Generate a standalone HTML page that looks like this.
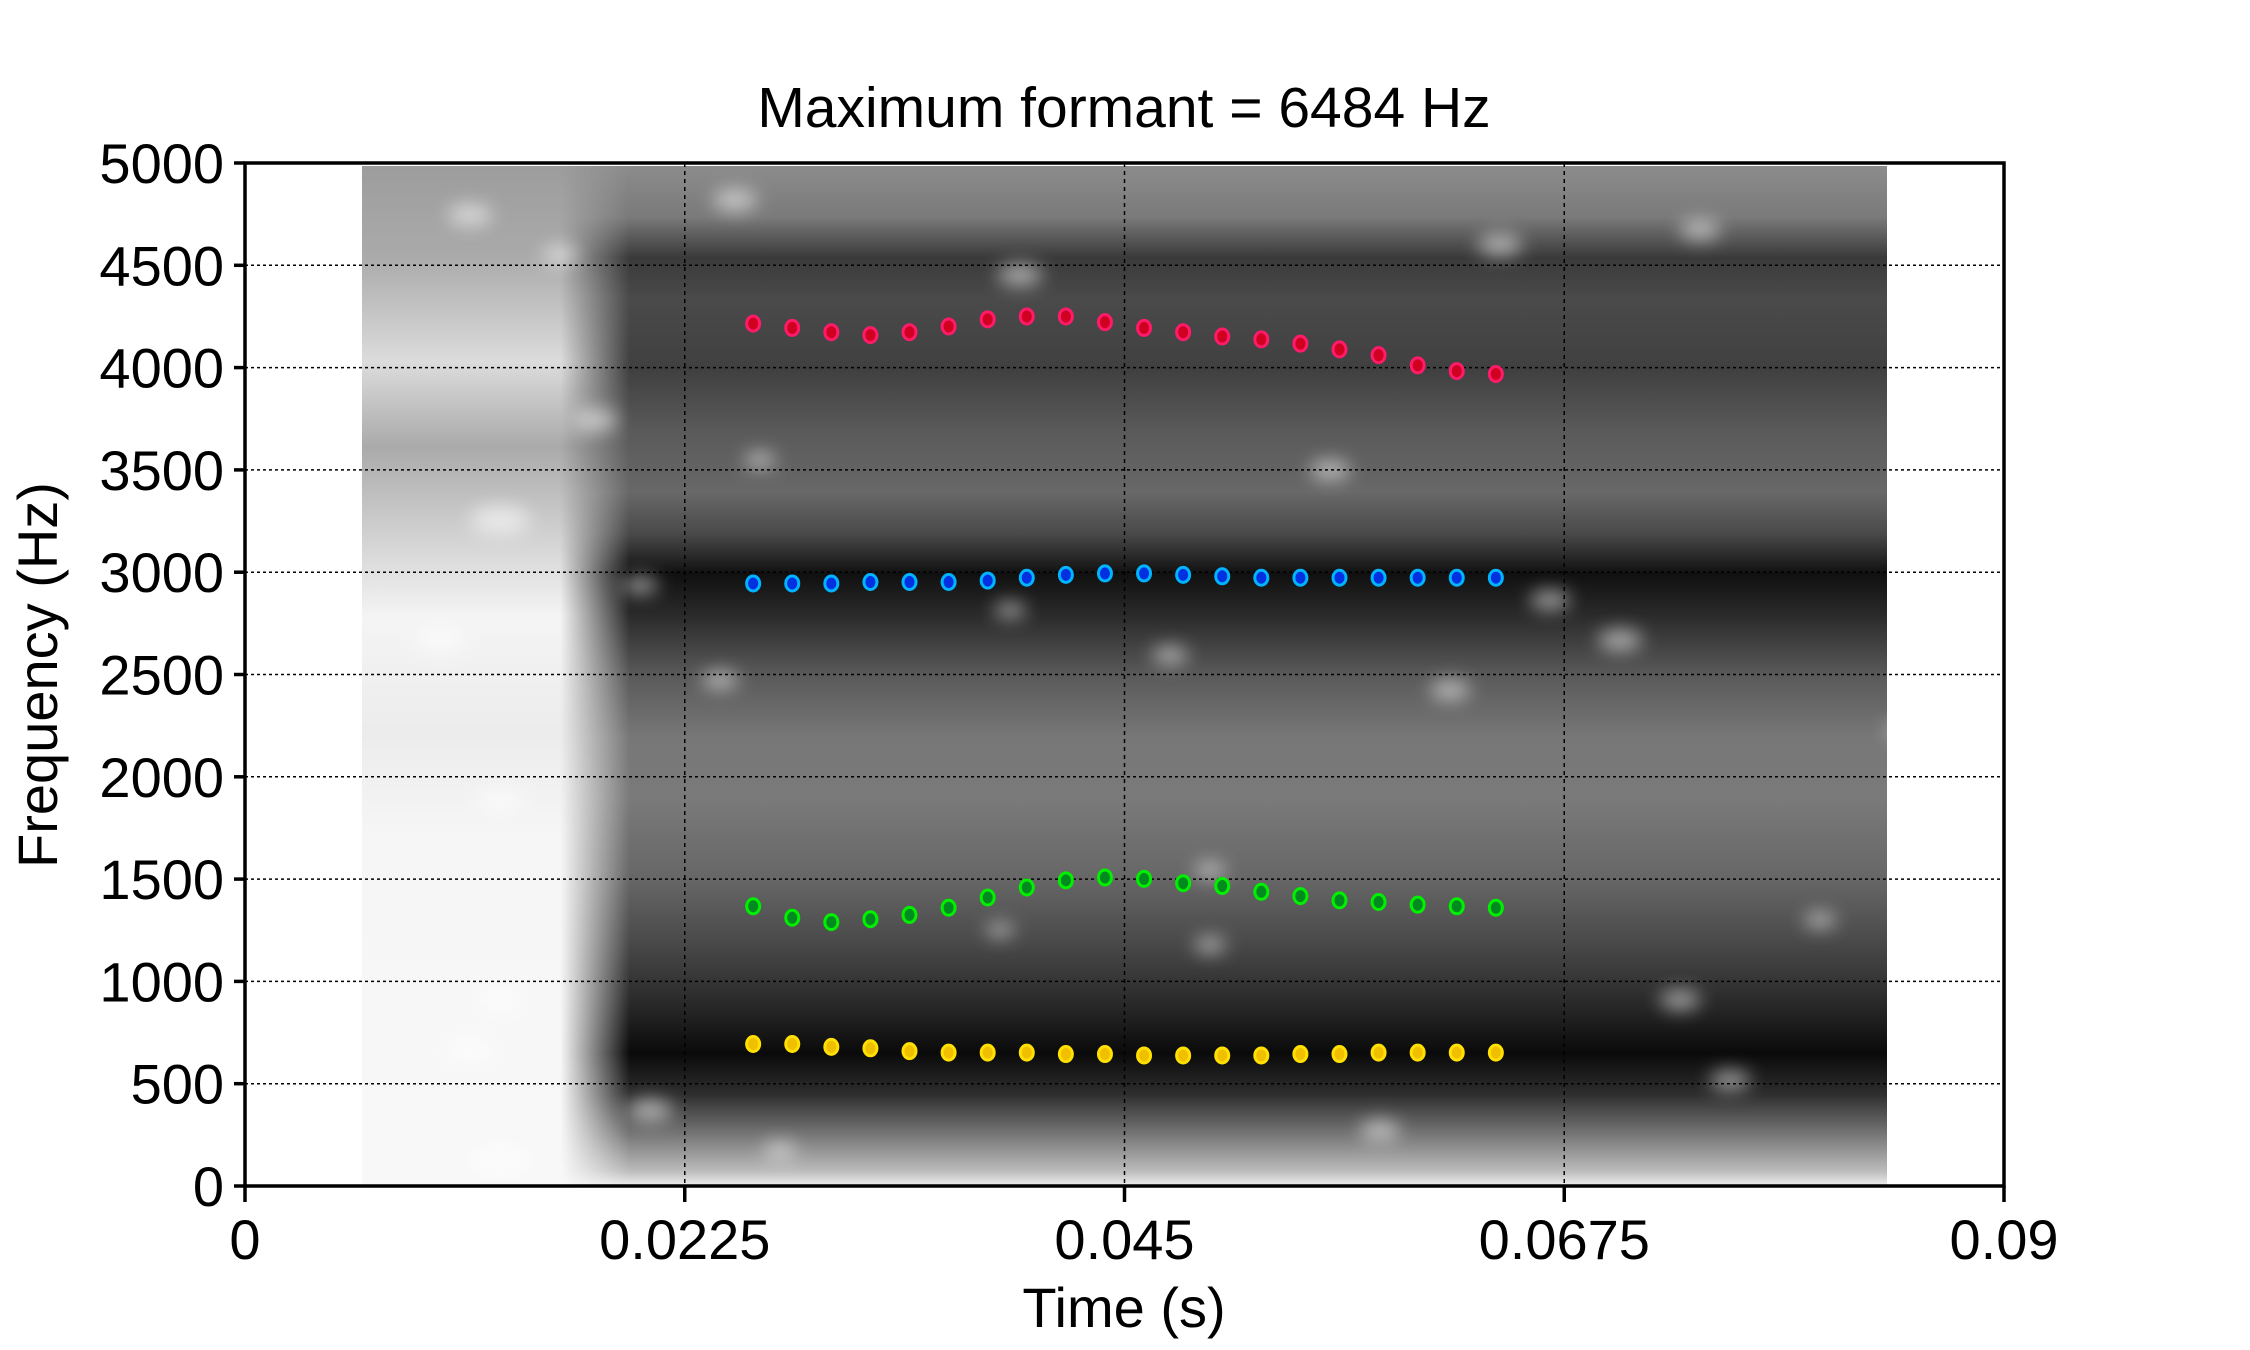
<!DOCTYPE html>
<html><head><meta charset="utf-8"><style>
html,body{margin:0;padding:0;background:#fff;}
svg{display:block;font-family:"Liberation Sans",Arial,sans-serif;}
</style></head><body>
<svg id="chart" width="2250" height="1350" viewBox="0 0 2250 1350" xmlns="http://www.w3.org/2000/svg">
<defs>
<filter id="blur2" x="-50%" y="-50%" width="200%" height="200%"><feGaussianBlur stdDeviation="9"/></filter>
<clipPath id="specClip"><rect x="362" y="166" width="1525" height="1020"/></clipPath>
<linearGradient id="mainGrad" x1="0" y1="0" x2="0" y2="1">
<stop offset="0" stop-color="#8c8c8c"/><stop offset="0.05" stop-color="#7a7a7a"/>
<stop offset="0.09" stop-color="#3a3a3a"/><stop offset="0.13" stop-color="#4a4a4a"/>
<stop offset="0.2" stop-color="#404040"/><stop offset="0.26" stop-color="#5a5a5a"/>
<stop offset="0.32" stop-color="#686868"/><stop offset="0.36" stop-color="#4a4a4a"/>
<stop offset="0.4" stop-color="#101010"/><stop offset="0.44" stop-color="#2a2a2a"/>
<stop offset="0.5" stop-color="#5a5a5a"/><stop offset="0.56" stop-color="#777"/>
<stop offset="0.62" stop-color="#7a7a7a"/><stop offset="0.7" stop-color="#666"/>
<stop offset="0.76" stop-color="#4a4a4a"/><stop offset="0.82" stop-color="#2a2a2a"/>
<stop offset="0.87" stop-color="#0a0a0a"/><stop offset="0.91" stop-color="#2e2e2e"/>
<stop offset="0.95" stop-color="#777"/><stop offset="0.985" stop-color="#bbb"/><stop offset="1" stop-color="#eee"/>
</linearGradient>
<linearGradient id="leftGrad" x1="0" y1="0" x2="0" y2="1">
<stop offset="0" stop-color="#9a9a9a"/><stop offset="0.1" stop-color="#aaa"/>
<stop offset="0.2" stop-color="#dcdcdc"/><stop offset="0.28" stop-color="#aaa"/>
<stop offset="0.36" stop-color="#cfcfcf"/><stop offset="0.44" stop-color="#f4f4f4"/>
<stop offset="0.55" stop-color="#ececec"/><stop offset="0.65" stop-color="#f6f6f6"/>
<stop offset="1" stop-color="#f8f8f8"/>
</linearGradient>
<linearGradient id="fadeGrad" x1="0" y1="0" x2="1" y2="0">
<stop offset="0" stop-color="#fff"/><stop offset="0.76" stop-color="#fff"/><stop offset="1" stop-color="#000"/>
</linearGradient>
<mask id="leftMask" maskUnits="userSpaceOnUse" x="340" y="150" width="290" height="1060"><rect x="340" y="150" width="290" height="1060" fill="url(#fadeGrad)"/></mask>
</defs>
<g id="spectrogram" clip-path="url(#specClip)">
<rect x="362" y="166" width="1525" height="1020" fill="url(#mainGrad)"/>
<rect x="340" y="150" width="290" height="1060" fill="url(#leftGrad)" mask="url(#leftMask)"/>
<g id="highlights" filter="url(#blur2)" fill="#fff" opacity="0.55"></g>
</g>
<g id="grid"></g>
<rect x="245" y="163" width="1759" height="1023" fill="none" stroke="#000" stroke-width="3.5"/>
<g id="axes"></g>
<g id="marks"></g>
<text x="1124" y="127" text-anchor="middle" font-size="57">Maximum formant = 6484 Hz</text>
<text x="1124" y="1327" text-anchor="middle" font-size="56">Time (s)</text>
<text x="0" y="0" transform="translate(57,675) rotate(-90)" text-anchor="middle" font-size="56">Frequency (Hz)</text>
</svg>
<script>
const xTicks = [0, 0.0225, 0.045, 0.0675, 0.09];
const xTickLabels = ["0", "0.0225", "0.045", "0.0675", "0.09"];
const yTicks = [0, 500, 1000, 1500, 2000, 2500, 3000, 3500, 4000, 4500, 5000];
const yTickLabels = ["0","500","1000","1500","2000","2500","3000","3500","4000","4500","5000"];
const times = [0.026,0.028,0.030,0.032,0.034,0.036,0.038,0.040,0.042,0.044,0.046,0.048,0.050,0.052,0.054,0.056,0.058,0.060,0.062,0.064];
const f1 = [694,694,680,673,659,652,652,652,645,645,638,638,638,638,645,645,652,652,652,652];
const f2 = [1367,1311,1290,1304,1325,1360,1410,1459,1494,1508,1501,1480,1466,1438,1417,1396,1388,1375,1367,1360];
const f3 = [2945,2945,2945,2952,2952,2952,2959,2973,2987,2994,2994,2987,2980,2973,2973,2973,2973,2973,2973,2973];
const f4 = [4215,4194,4173,4159,4173,4201,4236,4250,4250,4222,4194,4173,4152,4138,4117,4089,4061,4011,3983,3969];

const NS = "http://www.w3.org/2000/svg";
const X0 = 245, X1 = 2004, Y0 = 1186, Y1 = 163;
function xScale(t){ return X0 + (t - 0) / 0.09 * (X1 - X0); }
function yScale(f){ return Y0 - f / 5000 * (Y0 - Y1); }
function mk(tag, attrs, parent){ const e = document.createElementNS(NS, tag); for (const k in attrs) e.setAttribute(k, attrs[k]); parent.appendChild(e); return e; }

const hl = document.getElementById('highlights');
const spots = [[470,215,22],[560,255,18],[595,420,22],[735,200,22],[1020,275,22],[1500,245,22],[1700,230,20],[1960,330,18],[500,520,30],[760,460,16],[640,585,18],[1330,470,20],[1010,610,16],[1550,600,20],[1620,640,22],[720,680,18],[1170,655,18],[1450,690,20],[500,800,24],[1210,870,16],[1820,920,16],[500,1000,24],[650,1110,22],[1000,930,14],[1210,945,16],[1680,1000,20],[1730,1080,20],[500,1160,30],[1380,1130,20],[780,1150,16],[1900,730,14],[440,640,26],[470,1050,24]];
spots.forEach(s => { mk('ellipse', {cx:s[0], cy:s[1], rx:s[2], ry:s[2]*0.5}, hl); });

const grid = document.getElementById('grid');
yTicks.forEach((v,i) => {
  if (v > 0 && v < 5000) {
    const l = mk('line', {x1:X0, x2:X1, y1:yScale(v), y2:yScale(v), stroke:'#000', 'stroke-width':1.5, 'stroke-dasharray':'3,3'}, grid);
    
    
  }
});
xTicks.forEach(v => {
  if (v > 0 && v < 0.09) {
    const l = mk('line', {x1:xScale(v), x2:xScale(v), y1:Y1, y2:Y0, stroke:'#000', 'stroke-width':1.5, 'stroke-dasharray':'4,4'}, grid);
    
    
  }
});
const axes = document.getElementById('axes');
yTicks.forEach((v,i) => {
  const t = mk('line', {x1:X0-11, x2:X0, y1:yScale(v), y2:yScale(v), stroke:'#000', 'stroke-width':3.5}, axes);
  
  
  const tx = mk('text', {x:224, y:yScale(v)+20, 'text-anchor':'end', 'font-size':56}, axes);
  tx.textContent = yTickLabels[i];
  
  
});
xTicks.forEach((v,i) => {
  const t = mk('line', {x1:xScale(v), x2:xScale(v), y1:Y0, y2:Y0+16, stroke:'#000', 'stroke-width':3.5}, axes);
  
  
  const tx = mk('text', {x:xScale(v), y:1259, 'text-anchor':'middle', 'font-size':56}, axes);
  tx.textContent = xTickLabels[i];
  
  
});
const marks = document.getElementById('marks');
const series = [[f1,'#ffe000','#f0c000','f1'],[f2,'#00f000','#008a20','f2'],[f3,'#00b4ff','#0030e0','f3'],[f4,'#ff1a6a','#d00020','f4']];
series.forEach(s => {
  const g = mk('g', {}, marks);
  
  
  s[0].forEach((v,i) => {
    const c = mk('ellipse', {cx:xScale(times[i]), cy:yScale(v), rx:6.5, ry:7.5, fill:s[2], stroke:s[1], 'stroke-width':3}, g);
    
    
  });
});
</script>
</body></html>
